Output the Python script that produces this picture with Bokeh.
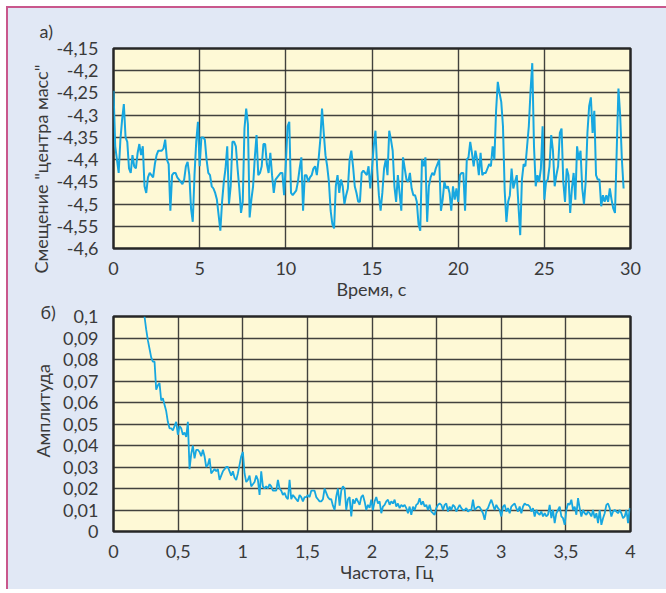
import numpy as np
from bokeh.plotting import figure
from bokeh.layouts import column
from bokeh.models import FixedTicker, CustomJSTickFormatter, Range1d, Title
from bokeh.embed import file_html
from bokeh.resources import INLINE

# ---- data ----
time_step = 0.1  # s
displacement = [
    -4.245, -4.37, -4.40, -4.43, -4.355, -4.31, -4.275, -4.35, -4.36, -4.42,
    -4.43, -4.39, -4.415, -4.42, -4.385, -4.365, -4.39, -4.37, -4.46, -4.475,
    -4.44, -4.43, -4.435, -4.44, -4.41, -4.39, -4.38, -4.38, -4.38, -4.375,
    -4.355, -4.40, -4.41, -4.515, -4.435, -4.43, -4.43, -4.44, -4.445, -4.45,
    -4.455, -4.445, -4.415, -4.405, -4.435, -4.51, -4.54, -4.435, -4.36, -4.315,
    -4.415, -4.35, -4.35, -4.355, -4.40, -4.43, -4.435, -4.46, -4.465, -4.475,
    -4.49, -4.525, -4.56, -4.495, -4.45, -4.42, -4.37, -4.50, -4.46, -4.36,
    -4.36, -4.37, -4.42, -4.465, -4.52, -4.495, -4.33, -4.285, -4.32, -4.53,
    -4.49, -4.46, -4.395, -4.345, -4.435, -4.43, -4.415, -4.365, -4.365, -4.41,
    -4.43, -4.385, -4.435, -4.475, -4.445, -4.44, -4.435, -4.43, -4.43, -4.48,
    -4.41, -4.325, -4.315, -4.475, -4.48, -4.475, -4.47, -4.45, -4.42, -4.395,
    -4.515, -4.435, -4.435, -4.45, -4.44, -4.435, -4.42, -4.415, -4.435, -4.40,
    -4.355, -4.285, -4.34, -4.39, -4.415, -4.45, -4.515, -4.545, -4.555, -4.46,
    -4.435, -4.475, -4.445, -4.46, -4.50, -4.48, -4.465, -4.40, -4.38, -4.415,
    -4.46, -4.475, -4.495, -4.495, -4.43, -4.425, -4.43, -4.435, -4.415, -4.465,
    -4.42, -4.37, -4.335, -4.42, -4.48, -4.515, -4.475, -4.42, -4.40, -4.435,
    -4.335, -4.355, -4.38, -4.46, -4.495, -4.435, -4.475, -4.515, -4.395, -4.42,
    -4.445, -4.45, -4.43, -4.465, -4.48, -4.48, -4.495, -4.545, -4.56, -4.40,
    -4.415, -4.395, -4.54, -4.46, -4.44, -4.43, -4.435, -4.42, -4.41, -4.40,
    -4.515, -4.49, -4.45, -4.465, -4.46, -4.475, -4.515, -4.46, -4.49, -4.465,
    -4.495, -4.435, -4.43, -4.43, -4.515, -4.40, -4.395, -4.36, -4.385, -4.415,
    -4.38, -4.40, -4.435, -4.385, -4.435, -4.43, -4.43, -4.42, -4.41, -4.415,
    -4.37, -4.40, -4.29, -4.225, -4.25, -4.27, -4.325, -4.47, -4.54, -4.495,
    -4.48, -4.42, -4.465, -4.45, -4.435, -4.505, -4.57, -4.445, -4.41, -4.415,
    -4.37, -4.325, -4.245, -4.183, -4.37, -4.46, -4.435, -4.45, -4.42, -4.325,
    -4.49, -4.45, -4.445, -4.415, -4.345, -4.38, -4.46, -4.435, -4.415, -4.34,
    -4.33, -4.45, -4.495, -4.42, -4.435, -4.52, -4.465, -4.43, -4.49, -4.37,
    -4.40, -4.38, -4.465, -4.50, -4.45, -4.34, -4.28, -4.26, -4.34, -4.29,
    -4.435, -4.445, -4.445, -4.505, -4.48, -4.495, -4.48, -4.495, -4.465, -4.49,
    -4.51, -4.52, -4.38, -4.24, -4.30, -4.40, -4.465,
]

freq_start = 0.24   # Hz
freq_step = 0.0129  # Hz
amplitude = [
    0.100, 0.094, 0.089, 0.085, 0.081, 0.079, 0.079, 0.066, 0.068, 0.069,
    0.061, 0.062, 0.059, 0.056, 0.051, 0.048, 0.048, 0.047, 0.049, 0.051,
    0.045, 0.049, 0.048, 0.045, 0.046, 0.044, 0.051, 0.029, 0.036, 0.040,
    0.034, 0.038, 0.038, 0.037, 0.035, 0.038, 0.035, 0.030, 0.031, 0.034,
    0.027, 0.028, 0.029, 0.028, 0.029, 0.024, 0.026, 0.028, 0.029, 0.030,
    0.030, 0.028, 0.026, 0.028, 0.025, 0.024, 0.027, 0.031, 0.035, 0.037,
    0.027, 0.023, 0.024, 0.026, 0.021, 0.022, 0.023, 0.026, 0.024, 0.017,
    0.028, 0.021, 0.020, 0.021, 0.020, 0.022, 0.021, 0.019, 0.019, 0.019,
    0.024, 0.020, 0.019, 0.017, 0.018, 0.016, 0.015, 0.024, 0.015, 0.017,
    0.016, 0.015, 0.014, 0.017, 0.016, 0.014, 0.016, 0.016, 0.017, 0.016,
    0.019, 0.019, 0.019, 0.016, 0.015, 0.014, 0.014, 0.015, 0.020, 0.018,
    0.016, 0.015, 0.015, 0.012, 0.010, 0.0163, 0.020, 0.012, 0.019, 0.021,
    0.020, 0.010, 0.015, 0.016, 0.007, 0.015, 0.013, 0.0155, 0.014, 0.0124,
    0.016, 0.017, 0.014, 0.010, 0.0124, 0.011, 0.0148, 0.010, 0.014, 0.016,
    0.013, 0.014, 0.0085, 0.0116, 0.0124, 0.014, 0.0148, 0.0124, 0.014, 0.013,
    0.0148, 0.0116, 0.013, 0.0109, 0.0124, 0.0116, 0.0124, 0.0109, 0.0085, 0.0116,
    0.0078, 0.0116, 0.010, 0.0124, 0.013, 0.0155, 0.0124, 0.014, 0.0116, 0.0124,
    0.010, 0.0124, 0.0093, 0.0085, 0.0078, 0.0109, 0.0124, 0.013, 0.0124, 0.010,
    0.0124, 0.013, 0.0093, 0.0116, 0.010, 0.0124, 0.0116, 0.0093, 0.0109, 0.0124,
    0.0109, 0.010, 0.010, 0.0109, 0.0093, 0.010, 0.010, 0.0148, 0.010, 0.0109,
    0.0116, 0.0113, 0.010, 0.0085, 0.0054, 0.010, 0.0109, 0.013, 0.0148, 0.0124,
    0.010, 0.0124, 0.0109, 0.010, 0.007, 0.0116, 0.0124, 0.0093, 0.0109, 0.0085,
    0.0116, 0.0124, 0.013, 0.0109, 0.0093, 0.0116, 0.0085, 0.0116, 0.013, 0.0124,
    0.0124, 0.0116, 0.0093, 0.0109, 0.007, 0.010, 0.0085, 0.0078, 0.0093, 0.007,
    0.0085, 0.007, 0.0078, 0.0124, 0.0062, 0.010, 0.0039, 0.0085, 0.010, 0.0116,
    0.007, 0.0062, 0.0031, 0.010, 0.013, 0.0124, 0.0148, 0.010, 0.0116, 0.0078,
    0.0155, 0.0109, 0.007, 0.010, 0.0085, 0.0078, 0.0093, 0.0085, 0.007, 0.010,
    0.0062, 0.0085, 0.0039, 0.010, 0.0031, 0.0062, 0.0085, 0.0124, 0.013, 0.0109,
    0.007, 0.0093, 0.010, 0.0093, 0.0085, 0.010, 0.0085, 0.0062, 0.007, 0.010,
    0.0039, 0.0109,
]

x1_ticks = [0, 5, 10, 15, 20, 25, 30]
y1_ticks = [-4.6, -4.55, -4.5, -4.45, -4.4, -4.35, -4.3, -4.25, -4.2, -4.15]
x2_ticks = [0, 0.5, 1, 1.5, 2, 2.5, 3, 3.5, 4]
y2_ticks = [0, 0.01, 0.02, 0.03, 0.04, 0.05, 0.06, 0.07, 0.08, 0.09, 0.1]

panel1_label = "а)"
panel2_label = "б)"
x1_title = "Время, с"
y1_title = 'Смещение "центра масс"'
x2_title = "Частота, Гц"
y2_title = "Амплитуда"

# ---- styling ----
FONT = "Lato"
FS = "18px"
TEXT = "#3a3a3a"
OUTER = "#e1e8f5"
INNER = "#fef9d6"
LINE = "#17a7e0"
GRID = "#2e2e2e"
PINK = "#c9578c"

time = np.arange(len(displacement)) * time_step
freq = freq_start + np.arange(len(amplitude)) * freq_step

fmt_code = "var s = (Math.round(tick*1000)/1000).toString(); return s.replace('.', ',');"


def txt(text, align, offset, standoff, valign="bottom"):
    return Title(text=text, align=align, offset=offset, standoff=standoff,
                 vertical_align=valign,
                 text_font=FONT, text_font_size=FS, text_color=TEXT,
                 text_font_style="normal")


def style(p, xt, yt):
    p.outline_line_color = "#262626"
    p.outline_line_width = 2.5
    p.xaxis.ticker = FixedTicker(ticks=xt)
    p.yaxis.ticker = FixedTicker(ticks=yt)
    p.xgrid.ticker = FixedTicker(ticks=xt)
    p.ygrid.ticker = FixedTicker(ticks=yt)
    for g in (p.xgrid, p.ygrid):
        g.grid_line_color = GRID
        g.grid_line_width = 1.4
        g.grid_line_alpha = 0.9
    for ax in (p.xaxis, p.yaxis):
        ax.formatter = CustomJSTickFormatter(code=fmt_code)
        ax.axis_line_color = None
        ax.major_tick_line_color = None
        ax.minor_tick_line_color = None
        ax.major_label_text_font = FONT
        ax.major_label_text_font_size = FS
        ax.major_label_text_color = TEXT
    p.xaxis.major_label_standoff = 7
    p.yaxis.major_label_standoff = 9


p1 = figure(width=658, height=294, x_range=Range1d(0, 30), y_range=Range1d(-4.6, -4.15),
            output_backend="svg", toolbar_location=None, title=None,
            min_border_left=105, min_border_right=36, min_border_top=40, min_border_bottom=54,
            background_fill_color=INNER, border_fill_color=OUTER)
style(p1, x1_ticks, y1_ticks)
p1.line(time, displacement, line_color=LINE, line_width=2)
p1.add_layout(txt(panel1_label, "left", -74, 14), "above")
p1.add_layout(txt(y1_title, "left", -25, 4), "left")
p1.add_layout(txt(x1_title, "left", 223, 0, "top"), "below")

p2 = figure(width=658, height=287, x_range=Range1d(0, 4), y_range=Range1d(0, 0.1),
            output_backend="svg", toolbar_location=None, title=None,
            min_border_left=105, min_border_right=36, min_border_top=14, min_border_bottom=58,
            background_fill_color=INNER, border_fill_color=OUTER)
style(p2, x2_ticks, y2_ticks)
p2.line(freq, amplitude, line_color=LINE, line_width=1.8)
p2.add_layout(txt(panel2_label, "left", -73, -12), "above")
p2.add_layout(txt(y2_title, "left", 74, 14), "left")
p2.add_layout(txt(x2_title, "left", 227, 0, "top"), "below")

layout = column(p1, p2, styles={"border-left": f"2px solid {PINK}",
                                "border-top": f"2px solid {PINK}",
                                "margin-left": "6px", "margin-top": "6px",
                                "background-color": OUTER})

open("out.html", "w").write(file_html(layout, INLINE))
